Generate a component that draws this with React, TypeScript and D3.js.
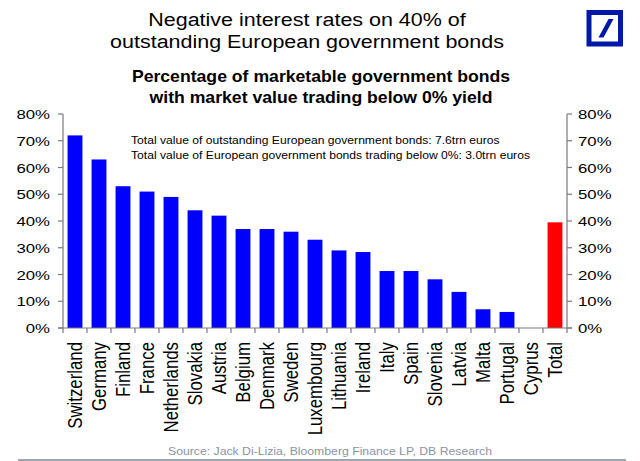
import React, { useEffect, useRef } from 'react'
import * as d3 from 'd3'

const countries = [
  'Switzerland', 'Germany', 'Finland', 'France', 'Netherlands', 'Slovakia', 'Austria',
  'Belgium', 'Denmark', 'Sweden', 'Luxembourg', 'Lithuania', 'Ireland', 'Italy', 'Spain',
  'Slovenia', 'Latvia', 'Malta', 'Portugal', 'Cyprus', 'Total',
]
const shares = [72, 63, 53, 51, 49, 44, 42, 37, 37, 36, 33, 29, 28.4, 21.3, 21.3, 18.2, 13.5, 7, 6, 0, 39.5]
const yTicks = [0, 10, 20, 30, 40, 50, 60, 70, 80]
const titleLines = ['Negative interest rates on 40% of', 'outstanding European government bonds']
const subtitleLines = ['Percentage of marketable government bonds', 'with market value trading below 0% yield']
const notes = [
  'Total value of outstanding European government bonds: 7.6trn euros',
  'Total value of European government bonds trading below 0%: 3.0trn euros',
]
const source = 'Source: Jack Di-Lizia, Bloomberg Finance LP, DB Research'

const FONT = "'Liberation Sans', Arial, sans-serif"

export default function App(): React.ReactElement {
  const ref = useRef<SVGSVGElement>(null)

  useEffect(() => {
    document.body.style.margin = '0'
    const width = 640
    const height = 461
    const left = 63
    const right = 567
    const top = 114
    const bottom = 328

    const data = countries.map((c, i) => ({ name: c, value: shares[i] }))

    const x = d3.scaleBand().domain(countries).range([left, right]).paddingInner(0.38).paddingOuter(0.19)
    const y = d3.scaleLinear().domain([0, 80]).range([bottom, top])

    const svg = d3.select(ref.current)
    svg.selectAll('*').remove()
    svg.attr('width', width).attr('height', height).style('font-family', FONT)

    // text helper, source picture is stretched horizontally
    const txt = (g: any, s: string, tx: number, ty: number, size: number, sx: number, anchor: string) =>
      g.append('text')
        .attr('transform', `translate(${tx},${ty}) scale(${sx},1)`)
        .attr('text-anchor', anchor)
        .attr('font-size', size)
        .text(s)

    const head = svg.append('g').attr('fill', '#000')
    titleLines.forEach((s, i) => txt(head, s, 307, 26 + i * 21.5, 17.6, 1.22, 'middle'))
    subtitleLines.forEach((s, i) =>
      txt(head, s, 321, 82 + i * 20.5, 16.8, 1.05, 'middle').attr('font-weight', 'bold'))

    // logo
    const logo = svg.append('g')
    logo.append('rect').attr('x', 589).attr('y', 12.5).attr('width', 31.5).attr('height', 31.5)
      .attr('fill', '#fff').attr('stroke', '#0018a8').attr('stroke-width', 5)
    logo.append('path').attr('d', 'M598.5,37.5 L603.5,37.5 L613.5,19 L608.5,19 Z').attr('fill', '#0018a8')

    // bars
    svg.append('g').selectAll('rect').data(data).join('rect')
      .attr('x', (d) => x(d.name)!)
      .attr('width', x.bandwidth())
      .attr('y', (d) => y(d.value))
      .attr('height', (d) => y(0) - y(d.value))
      .attr('fill', (d) => (d.name === 'Total' ? '#ff0000' : '#0000ff'))

    const axisColor = '#7a7a7a'
    const axes = svg.append('g').attr('stroke', axisColor).attr('stroke-width', 1.2)
    axes.append('line').attr('x1', left).attr('x2', left).attr('y1', top).attr('y2', bottom)
    axes.append('line').attr('x1', right).attr('x2', right).attr('y1', top).attr('y2', bottom)
    axes.append('line').attr('x1', left - 5).attr('x2', right + 5).attr('y1', bottom).attr('y2', bottom)
    axes.selectAll('.tl').data(yTicks).join('line')
      .attr('x1', left - 5).attr('x2', left).attr('y1', (d) => y(d)).attr('y2', (d) => y(d))
    axes.selectAll('.tr').data(yTicks).join('line')
      .attr('x1', right).attr('x2', right + 5).attr('y1', (d) => y(d)).attr('y2', (d) => y(d))
    const step = x.step()
    const bounds = d3.range(countries.length + 1).map((i) => left + i * step)
    axes.selectAll('.tb').data(bounds).join('line')
      .attr('x1', (d) => d).attr('x2', (d) => d).attr('y1', bottom).attr('y2', bottom + 5)

    const labels = svg.append('g').attr('fill', '#000')
    yTicks.forEach((t) => {
      txt(labels, `${t}%`, 50, y(t) + 5, 13.2, 1.27, 'end')
      txt(labels, `${t}%`, 578, y(t) + 5, 13.2, 1.27, 'start')
    })

    countries.forEach((c) => {
      labels.append('text')
        .attr('transform', `translate(${x(c)! + x.bandwidth() / 2 + 6.5},342) scale(1.22,1) rotate(-90)`)
        .attr('text-anchor', 'end')
        .attr('font-size', 16.8)
        .text(c)
    })

    notes.forEach((s, i) => txt(labels, s, 131, 143.5 + i * 15, 11.6, 1.046, 'start'))

    txt(svg, source, 168, 455, 10.6, 1.155, 'start').attr('fill', '#8a94a3')
    svg.append('line').attr('x1', 18).attr('x2', 626).attr('y1', 460).attr('y2', 460)
      .attr('stroke', '#7d8794').attr('stroke-width', 1.5)
  }, [])

  return <svg ref={ref} />
}
